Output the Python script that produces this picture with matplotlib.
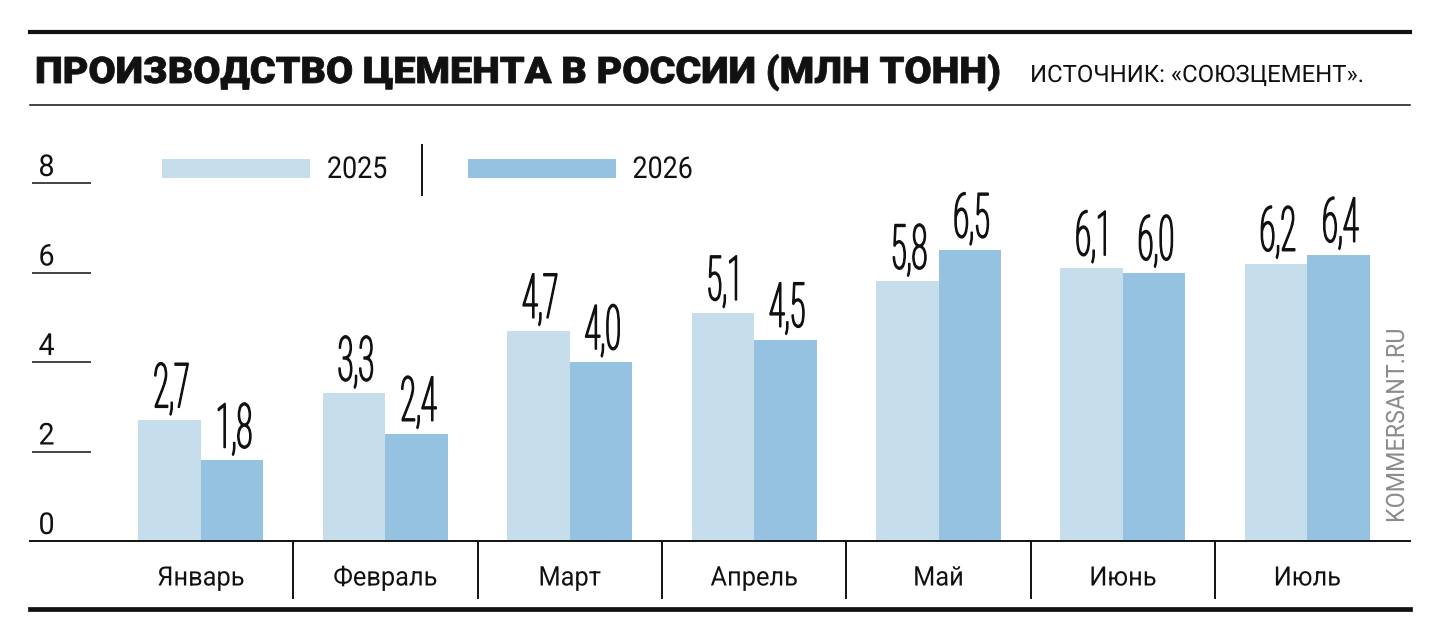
import numpy as np
import matplotlib
matplotlib.use('Agg')
import matplotlib.pyplot as plt
from matplotlib import patheffects
from matplotlib.transforms import Affine2D
from matplotlib.textpath import TextPath
from matplotlib.font_manager import FontProperties
from matplotlib.lines import Line2D
from matplotlib.patches import Rectangle

# data
months = ['Январь', 'Февраль', 'Март', 'Апрель', 'Май', 'Июнь', 'Июль']
v2025 = [2.7, 3.3, 4.7, 5.1, 5.8, 6.1, 6.2]
v2026 = [1.8, 2.4, 4.0, 4.5, 6.5, 6.0, 6.4]
series = ['2025', '2026']
yticks = [0, 2, 4, 6, 8]

title = 'ПРОИЗВОДСТВО ЦЕМЕНТА В РОССИИ (МЛН ТОНН)'
source = 'ИСТОЧНИК: «СОЮЗЦЕМЕНТ».'
brand = 'KOMMERSANT.RU'

c_light = '#c6ddec'
c_dark = '#95c2e1'
ink = '#111111'

FONT = 'Roboto'
W, H = 1440, 642
PXU = 44.75  # pixels per unit on y


def fx(px):
    return px / W


def fy(py):
    return 1 - py / H


class Stretch(patheffects.AbstractPathEffect):
    # stretch glyphs vertically around the baseline (tall condensed look)
    def __init__(self, sy=1.0, lw=0.0):
        super().__init__()
        self.sy, self.lw = sy, lw

    def draw_path(self, renderer, gc, tpath, affine, rgbFace=None):
        gc0 = renderer.new_gc()
        gc0.copy_properties(gc)
        gc0.set_linewidth(self.lw)
        renderer.draw_path(gc0, tpath, Affine2D().scale(1, self.sy) + affine, rgbFace)
        gc0.restore()


def fit(s, width_px, cap_px, ref='Н', **kw):
    # font size so the string is width_px wide, and the vertical stretch for cap_px
    fp = FontProperties(family=FONT, size=20, **kw)
    k = 100 / 72.0
    w = TextPath((0, 0), s, prop=fp).get_extents().width * k
    fp.set_size(20 * width_px / w)
    h = TextPath((0, 0), ref, prop=fp).get_extents().height * k
    return fp, cap_px / h


fig = plt.figure(figsize=(14.4, 6.42), dpi=100)
ax = fig.add_axes([fx(30), fy(541), fx(1410) - fx(30), fy(183) - fy(541)])
ax.set_xlim(-0.927, 6.557)
ax.set_ylim(0, 8)
ax.axis('off')

x = np.arange(len(months))
bw = 0.339
ax.bar(x - bw / 2, v2025, bw, color=c_light, linewidth=0)
ax.bar(x + bw / 2, v2026, bw, color=c_dark, linewidth=0)

ax.axhline(0, color=ink, lw=1.4, clip_on=False)
ax.vlines(x[:-1] + 0.5, -58 / PXU, 0, color=ink, lw=1.4, clip_on=False)
ax.hlines(yticks[1:], 0.0014, 0.0442, transform=ax.get_yaxis_transform(),
          color=ink, lw=1.1, clip_on=False)

# y tick labels
fp_tick, sy = fit('8', 13, 22, ref='8')
for v in yticks:
    ax.text(0.012, v + 7 / PXU, str(v), transform=ax.get_yaxis_transform(),
            ha='center', va='baseline', fontproperties=fp_tick, color=ink,
            path_effects=[Stretch(sy)], clip_on=False)

# value labels
fp_val, sy = fit('2,7', 33, 45, ref='8', weight='light')
for xi, a, b in zip(x, v2025, v2026):
    for xx, v in ((xi - bw / 2, a), (xi + bw / 2, b)):
        ax.text(xx + 0.01, v + 13 / PXU, f'{v:.1f}'.replace('.', ','),
                ha='center', va='baseline', fontproperties=fp_val, color=ink,
                path_effects=[Stretch(sy, lw=1.3)], clip_on=False)

# month labels
fp_m, sy = fit('Январь', 85, 19)
for xi, m in zip(x, months):
    ax.text(xi, -(585.5 - 541) / PXU, m, ha='center', va='baseline',
            fontproperties=fp_m, color=ink,
            path_effects=[Stretch(sy)], clip_on=False)

# legend
fp_leg, sy = fit('2025', 58, 22, ref='8')
for i, (name, col) in enumerate(zip(series, [c_light, c_dark])):
    x0 = 162 + i * 305.5
    fig.add_artist(Rectangle((fx(x0), fy(178)), 148 / W, 19 / H,
                             transform=fig.transFigure, color=col, lw=0))
    fig.text(fx(x0 + 165), fy(178), name, ha='left', va='baseline',
             fontproperties=fp_leg, color=ink, path_effects=[Stretch(sy)])
fig.add_artist(Line2D([fx(422), fx(422)], [fy(145), fy(195)],
                      color=ink, lw=1.4))

# header and rules
fig.add_artist(Line2D([fx(30), fx(1410)], [fy(32), fy(32)], color=ink, lw=3.0))
fig.add_artist(Line2D([fx(30), fx(1410)], [fy(105), fy(105)], color=ink, lw=1.1))
fig.add_artist(Line2D([fx(30), fx(1410)], [fy(608.5), fy(608.5)], color=ink, lw=3.4))

fp_t, sy = fit(title, 962, 26, weight='black')
fig.text(fx(35), fy(83), title, ha='left', va='baseline', fontproperties=fp_t,
         color=ink, path_effects=[Stretch(sy, lw=0.6)])

fp_s, sy = fit(source, 330, 17)
fig.text(fx(1030), fy(82), source, ha='left', va='baseline', fontproperties=fp_s,
         color=ink, path_effects=[Stretch(sy)])

fp_b, sy = fit(brand, 191, 18, ref='K')
fig.text(fx(1404), fy(523), brand, ha='left', va='baseline', rotation=90,
         rotation_mode='anchor', fontproperties=fp_b, color='#8c8c8c',
         path_effects=[Stretch(sy)])

fig.savefig('out.png', dpi=100, facecolor='white')
